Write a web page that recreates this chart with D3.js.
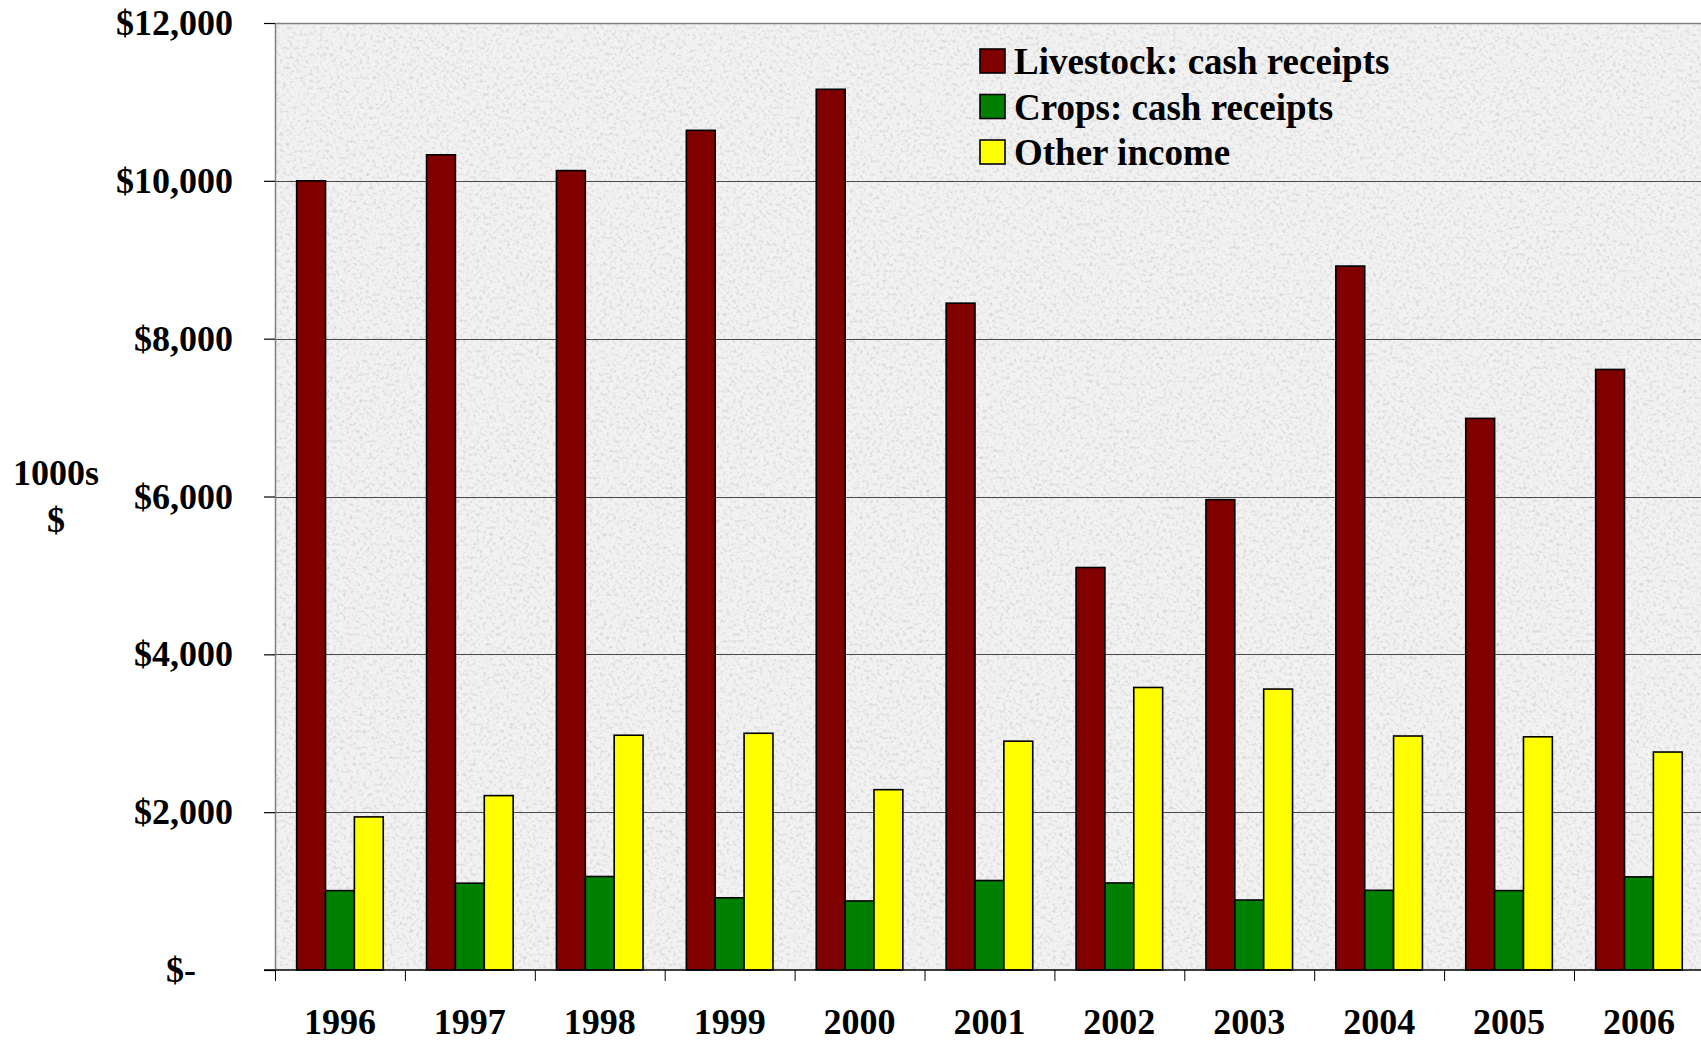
<!DOCTYPE html>
<html>
<head>
<meta charset="utf-8">
<script src="https://cdn.jsdelivr.net/npm/d3@7"></script>
<style>
  html, body { margin: 0; padding: 0; background: #fff; overflow: hidden; }
  svg { display: block; font-family: "Liberation Serif", "Times New Roman", serif; font-weight: bold; }
</style>
</head>
<body>
<div id="chart"></div>
<script>
// Data (1000s of $)
const years = ["1996", "1997", "1998", "1999", "2000", "2001", "2002", "2003", "2004", "2005", "2006"];
const seriesNames = ["Livestock: cash receipts", "Crops: cash receipts", "Other income"];
const seriesColors = ["#800000", "#008000", "#ffff00"];
const livestock = [10000, 10330, 10130, 10640, 11160, 8450, 5100, 5960, 8920, 6990, 7610];
const crops = [1006, 1100, 1185, 915, 875, 1134, 1103, 887, 1010, 1006, 1180];
const other = [1940, 2210, 2975, 3000, 2285, 2900, 3580, 3560, 2965, 2955, 2762];
const yTicks = [0, 2000, 4000, 6000, 8000, 10000, 12000];

const series = [livestock, crops, other];

const width = 1701, height = 1043;
// plot area runs a little past the right edge of the picture, as in the original
const margin = { left: 275, top: 23, bottom: 73 };
const plotW = 11 * 129.9;
const plotBottom = height - margin.bottom;

const svg = d3.select("#chart").append("svg")
    .attr("width", width)
    .attr("height", height);

// granite-like background texture
const defs = svg.append("defs");
const filt = defs.append("filter")
    .attr("id", "granite")
    .attr("x", 0).attr("y", 0).attr("width", "100%").attr("height", "100%");
filt.append("feTurbulence")
    .attr("type", "fractalNoise")
    .attr("baseFrequency", 0.3)
    .attr("numOctaves", 3)
    .attr("seed", 7)
    .attr("result", "noise");
filt.append("feColorMatrix")
    .attr("in", "noise")
    .attr("type", "matrix")
    .attr("values", "0 0 0 0 0.5  0 0 0 0 0.5  0 0 0 0 0.5  -1.4 0 0 0 0.72");

const x = d3.scaleBand()
    .domain(years)
    .range([margin.left, margin.left + plotW])
    .paddingInner(0)
    .paddingOuter(0);

const xSub = d3.scaleBand()
    .domain(d3.range(series.length))
    .range([0, x.bandwidth()])
    .paddingInner(0)
    .paddingOuter(0.75);

const y = d3.scaleLinear()
    .domain([0, 12000])
    .range([plotBottom, margin.top]);

// plot background
svg.append("rect")
    .attr("x", margin.left).attr("y", margin.top)
    .attr("width", plotW).attr("height", plotBottom - margin.top)
    .attr("fill", "#f2f2f2");
svg.append("rect")
    .attr("x", margin.left).attr("y", margin.top)
    .attr("width", plotW).attr("height", plotBottom - margin.top)
    .attr("filter", "url(#granite)");

// gridlines
svg.append("g")
    .selectAll("line")
    .data(yTicks.filter(d => d > 0 && d < 12000))
    .join("line")
    .attr("x1", margin.left).attr("x2", margin.left + plotW)
    .attr("y1", d => Math.round(y(d)) + 0.5).attr("y2", d => Math.round(y(d)) + 0.5)
    .attr("stroke", "#4a4a4a")
    .attr("stroke-width", 1);

// plot border (top and left in gray)
svg.append("path")
    .attr("d", `M${margin.left + 0.5},${plotBottom} V${margin.top + 0.5} H${margin.left + plotW}`)
    .attr("fill", "none")
    .attr("stroke", "#808080")
    .attr("stroke-width", 1.5);

// bars
const groups = svg.append("g")
    .selectAll("g")
    .data(years)
    .join("g")
    .attr("transform", d => `translate(${x(d)},0)`);

groups.selectAll("rect")
    .data((yr, i) => series.map((s, k) => ({ k, value: s[i] })))
    .join("rect")
    .attr("x", d => xSub(d.k))
    .attr("width", xSub.bandwidth())
    .attr("y", d => y(d.value))
    .attr("height", d => y(0) - y(d.value))
    .attr("fill", d => seriesColors[d.k])
    .attr("stroke", "#000")
    .attr("stroke-width", 1.6);

// y axis
const yAxis = svg.append("g")
    .attr("transform", `translate(${margin.left},0)`)
    .call(d3.axisLeft(y)
        .tickValues(yTicks)
        .tickSize(11)
        .tickPadding(31)
        .tickFormat(d => d === 0 ? "$-" : "$" + d3.format(",")(d)));
yAxis.select(".domain").remove();
yAxis.selectAll(".tick line").attr("stroke", "#000").attr("stroke-width", 1.2);
yAxis.selectAll(".tick text")
    .attr("font-size", 36)
    .attr("font-family", "Liberation Serif, Times New Roman, serif")
    .attr("font-weight", "bold")
    .attr("fill", "#000")
    .attr("dx", d => d === 0 ? -37 : 0);

// x axis line and boundary ticks
svg.append("line")
    .attr("x1", margin.left - 11).attr("x2", margin.left + plotW)
    .attr("y1", plotBottom).attr("y2", plotBottom)
    .attr("stroke", "#000").attr("stroke-width", 1.5);

svg.append("g")
    .selectAll("line")
    .data(years)
    .join("line")
    .attr("x1", d => x(d) + 0.5).attr("x2", d => x(d) + 0.5)
    .attr("y1", plotBottom).attr("y2", plotBottom + 11)
    .attr("stroke", "#000").attr("stroke-width", 1);

svg.append("g")
    .selectAll("text")
    .data(years)
    .join("text")
    .attr("x", d => x(d) + x.bandwidth() / 2)
    .attr("y", 1034)
    .attr("text-anchor", "middle")
    .attr("font-size", 36)
    .text(d => d);

// y axis title
svg.append("text")
    .attr("x", 56).attr("y", 485)
    .attr("text-anchor", "middle")
    .attr("font-size", 36)
    .text("1000s");
svg.append("text")
    .attr("x", 56).attr("y", 532)
    .attr("text-anchor", "middle")
    .attr("font-size", 36)
    .text("$");

// legend
const legend = svg.append("g")
    .selectAll("g")
    .data(seriesNames)
    .join("g")
    .attr("transform", (d, i) => `translate(980,${49 + i * 45.5})`);
legend.append("rect")
    .attr("width", 25).attr("height", 24)
    .attr("fill", (d, i) => seriesColors[i])
    .attr("stroke", "#000")
    .attr("stroke-width", 1.6);
legend.append("text")
    .attr("x", 34).attr("y", 25)
    .attr("font-size", 37)
    .text(d => d);
</script>
</body>
</html>
